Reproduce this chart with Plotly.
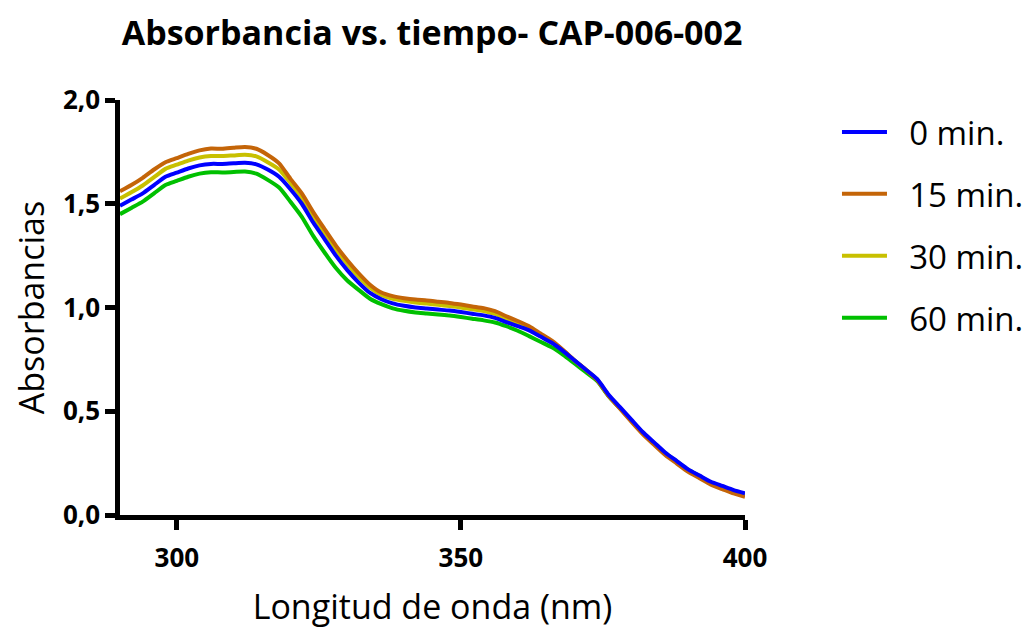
import plotly.graph_objects as go

wavelength = [290, 292, 294, 296, 298, 300, 302, 304, 306, 308, 310, 312, 314, 316, 318, 320,
              322, 324, 326, 328, 330, 332, 334, 336, 338, 340, 342, 344, 346, 348, 350, 352,
              354, 356, 358, 360, 362, 364, 366, 368, 370, 372, 374, 376, 378, 380, 382, 384,
              386, 388, 390, 392, 394, 396, 398, 400]

abs_0 = [1.49, 1.52, 1.55, 1.59, 1.63, 1.65, 1.67, 1.685, 1.692, 1.692, 1.695, 1.697, 1.69, 1.665, 1.63, 1.57,
         1.50, 1.41, 1.33, 1.25, 1.18, 1.12, 1.07, 1.04, 1.02, 1.008, 1.0, 0.995, 0.99, 0.985, 0.978, 0.97,
         0.962, 0.95, 0.93, 0.91, 0.89, 0.86, 0.83, 0.79, 0.745, 0.70, 0.655, 0.58, 0.52, 0.46, 0.40, 0.35,
         0.30, 0.26, 0.22, 0.19, 0.16, 0.14, 0.12, 0.105]

abs_15 = [1.56, 1.59, 1.625, 1.665, 1.70, 1.72, 1.74, 1.757, 1.766, 1.765, 1.77, 1.774, 1.765, 1.735, 1.695, 1.62,
          1.55, 1.46, 1.378, 1.298, 1.228, 1.165, 1.11, 1.072, 1.055, 1.045, 1.038, 1.034, 1.028, 1.022, 1.014, 1.005,
          0.997, 0.982, 0.958, 0.935, 0.91, 0.875, 0.84, 0.795, 0.745, 0.70, 0.65, 0.573, 0.512, 0.45, 0.39, 0.338,
          0.288, 0.248, 0.208, 0.177, 0.146, 0.125, 0.104, 0.088]

abs_30 = [1.525, 1.555, 1.588, 1.628, 1.668, 1.688, 1.708, 1.723, 1.73, 1.73, 1.733, 1.736, 1.728, 1.70, 1.665, 1.60,
          1.53, 1.44, 1.36, 1.28, 1.21, 1.148, 1.095, 1.06, 1.042, 1.032, 1.024, 1.019, 1.013, 1.007, 1.0, 0.991,
          0.983, 0.969, 0.946, 0.925, 0.902, 0.869, 0.836, 0.793, 0.745, 0.70, 0.652, 0.576, 0.515, 0.454, 0.394, 0.343,
          0.293, 0.253, 0.213, 0.183, 0.152, 0.131, 0.111, 0.095]

abs_60 = [1.45, 1.48, 1.51, 1.55, 1.59, 1.61, 1.63, 1.645, 1.652, 1.651, 1.653, 1.655, 1.645, 1.615, 1.578, 1.51,
          1.437, 1.345, 1.265, 1.19, 1.13, 1.085, 1.042, 1.016, 0.996, 0.984, 0.976, 0.971, 0.966, 0.961, 0.954, 0.946,
          0.938, 0.928, 0.91, 0.888, 0.862, 0.835, 0.808, 0.772, 0.73, 0.688, 0.645, 0.572, 0.514, 0.455, 0.396, 0.346,
          0.297, 0.258, 0.218, 0.187, 0.156, 0.135, 0.115, 0.10]

series = [
    ("60 min.", abs_60, "#00C000", 4),
    ("30 min.", abs_30, "#C8C000", 3),
    ("15 min.", abs_15, "#C46508", 2),
    ("0 min.", abs_0, "#0000FF", 1),
]

FONT = "Open Sans"
NB = "\u00a0"

fig = go.Figure()
for name, vals, color, rank in series:
    fig.add_trace(go.Scatter(
        x=wavelength, y=vals, mode="lines", name=NB * 2 + name,
        line=dict(color=color, width=4, shape="spline", smoothing=0.6),
        legendrank=rank, legendgroup=name,
    ))

fig.update_layout(
    width=1033, height=630,
    paper_bgcolor="white", plot_bgcolor="white",
    margin=dict(l=112, r=296, t=92, b=123),
    separators=",.",
    font=dict(family=FONT, color="black"),
    title=dict(text="<b>Absorbancia vs. tiempo- CAP-006-002</b>",
               x=0.4105, xanchor="center", y=0.960, yanchor="middle",
               font=dict(size=34, family=FONT, color="black")),
    showlegend=True,
    legend=dict(xref="container", yref="container", x=0.8025, xanchor="left", y=0.8476, yanchor="top",
                font=dict(size=33, family=FONT, color="black"),
                tracegroupgap=16, itemwidth=45, bgcolor="rgba(0,0,0,0)"),
)

fig.update_xaxes(
    range=[290, 400], tickvals=[300, 350, 400], ticktext=["300", "350", "400"],
    showline=True, linecolor="black", linewidth=4.5,
    ticks="outside", ticklen=10, tickwidth=4.5, tickcolor="black",
    ticklabelstandoff=6,
    showgrid=False, zeroline=False,
    tickfont=dict(size=26, family=FONT, color="black", weight="bold"),
    title=dict(text="Longitud de onda (nm)", font=dict(size=34, family=FONT, color="black"), standoff=23),
)
fig.update_yaxes(
    range=[0, 2], tickvals=[0, 0.5, 1.0, 1.5, 2.0], tickformat=".1f",
    showline=True, linecolor="black", linewidth=4.5,
    ticks="outside", ticklen=10, tickwidth=4.5, tickcolor="black",
    showgrid=False, zeroline=False,
    tickfont=dict(size=26, family=FONT, color="black", weight="bold"),
    title=dict(text="Absorbancias", font=dict(size=34, family=FONT, color="black"), standoff=19),
)

fig.write_html("out.html")
